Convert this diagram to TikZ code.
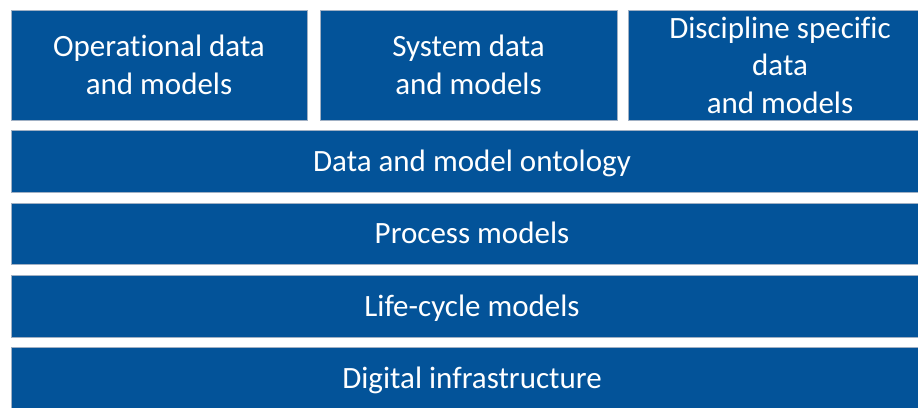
\documentclass[tikz,border=0pt]{standalone}
\usepackage{fontspec}
\setmainfont{Carlito}[Ligatures=NoCommon]
\definecolor{layerblue}{RGB}{3,83,153}
\definecolor{layeredge}{RGB}{160,176,196}
\tikzset{
  layer/.style={draw=layeredge, line width=1pt, fill=layerblue, text=white,
    align=center, inner sep=0pt, outer sep=0pt,
    font=\fontsize{31}{37.5}\selectfont},
  band/.style={layer, minimum width=922pt, text height=26.5pt, text depth=6.5pt}
}
\begin{document}
\begin{tikzpicture}[x=1pt,y=-1pt]
\useasboundingbox (0,0) rectangle (918,407);
\begin{scope}
\clip (0,0) rectangle (918,407);
% top row: three data blocks
\node[layer, minimum width=296pt, minimum height=110pt] (op) at (159,65) {Operational data\\and models};
\node[layer, minimum width=297pt, minimum height=110pt] (sys) at (468.5,65) {System data\\and models};
\node[layer, minimum width=304pt, minimum height=110pt] (disc) at (780,65) {Discipline specific\\data\\and models};
% stacked full-width layers
\node[band, minimum height=62pt] (onto) at (472,161) {Data and model ontology};
\node[band, minimum height=61pt] (proc) at (472,233.5) {Process models};
\node[band, minimum height=62pt] (life) at (472,306) {Life-cycle models};
\node[band, minimum height=62pt] (infra) at (472,378) {Digital infrastructure};
\end{scope}
\end{tikzpicture}
\end{document}
